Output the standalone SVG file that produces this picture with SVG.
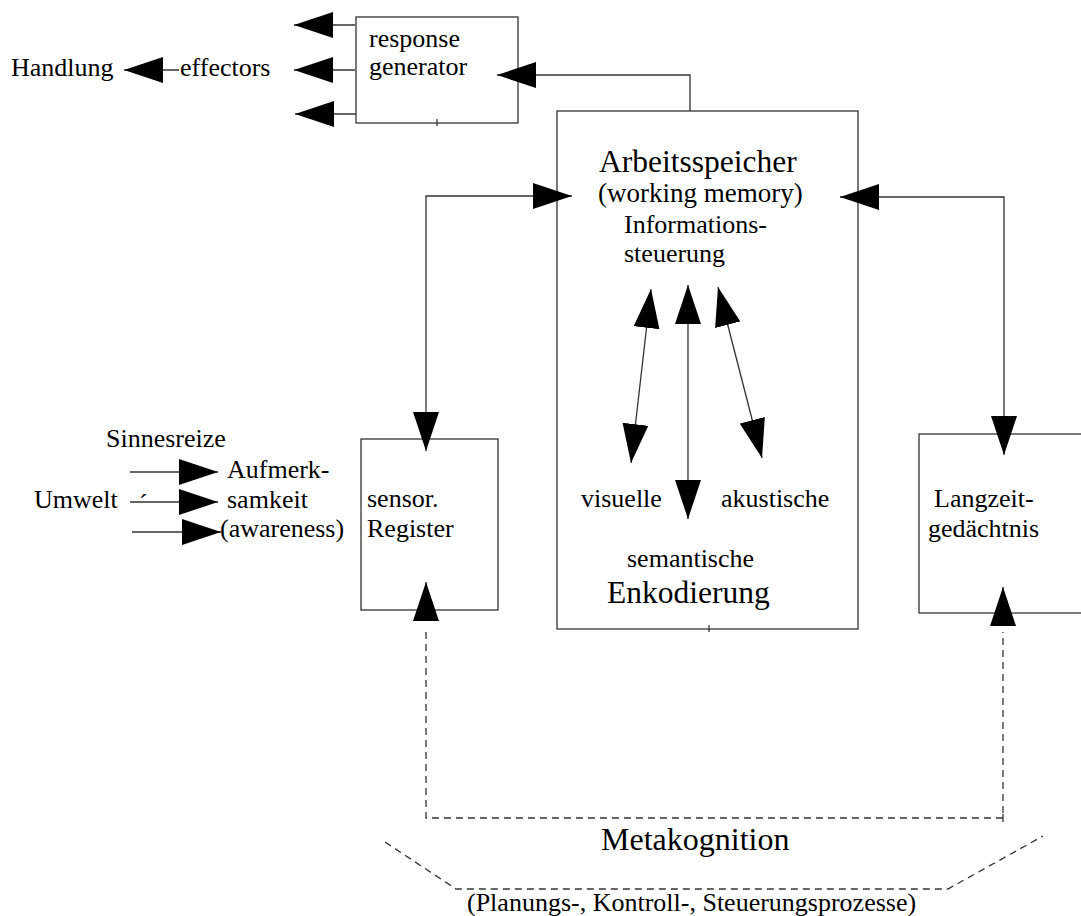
<svg xmlns="http://www.w3.org/2000/svg" width="1081" height="916" viewBox="0 0 1081 916">
<style>
text{font-family:"Liberation Serif","Times New Roman",serif;font-size:26px;fill:#000}
.big{font-size:31.5px}
.box{fill:none;stroke:#333;stroke-width:1.3}
.ln{fill:none;stroke:#333;stroke-width:1.3}
.dash{fill:none;stroke:#333;stroke-width:1.3;stroke-dasharray:7 5}
</style>
<defs>
<marker id="ah" viewBox="0 0 39 26" refX="39" refY="13" markerWidth="39" markerHeight="26" markerUnits="userSpaceOnUse" orient="auto-start-reverse">
<path d="M0,0 L39,13 L0,26 z" fill="#000"/>
</marker>
</defs>
<rect width="1081" height="916" fill="#fff"/>

<g id="response-generator">
<rect class="box" x="356" y="17" width="162" height="106"/>
<line class="ln" x1="437" y1="119" x2="437" y2="126"/>
<text x="369" y="47">response</text>
<text x="369" y="75">generator</text>
</g>

<g id="handlung">
<text x="11" y="76">Handlung</text>
</g>
<g id="effectors">
<text x="180" y="76">effectors</text>
</g>

<g id="arbeitsspeicher">
<rect class="box" x="557" y="111" width="301" height="518"/>
<line class="ln" x1="709" y1="625" x2="709" y2="632"/>
<text class="big" x="599" y="172">Arbeitsspeicher</text>
<text x="598" y="202" style="font-size:27px">(working memory)</text>
<text x="624" y="233">Informations-</text>
<text x="624" y="262">steuerung</text>
<text x="581" y="507">visuelle</text>
<text x="721" y="507">akustische</text>
<text x="627" y="567">semantische</text>
<text class="big" x="607" y="603">Enkodierung</text>
</g>

<g id="sensor-register">
<rect class="box" x="361" y="439" width="137" height="171"/>
<text x="367" y="507">sensor.</text>
<text x="367" y="537">Register</text>
</g>

<g id="langzeit">
<rect class="box" x="919" y="434" width="200" height="179"/>
<text x="934" y="507">Langzeit-</text>
<text x="928" y="537">gedächtnis</text>
</g>

<g id="inputs">
<text x="106" y="447">Sinnesreize</text>
<text x="34" y="508">Umwelt</text>
<text x="139" y="512">´</text>
<text x="227" y="478">Aufmerk-</text>
<text x="227" y="508">samkeit</text>
<text x="220" y="537">(awareness)</text>
</g>

<g id="metakognition">
<text x="601" y="850" style="font-size:32px">Metakognition</text>
<text x="467" y="911">(Planungs-, Kontroll-, Steuerungsprozesse)</text>
<path class="dash" d="M385,842 L456,889 H948 L1043,836"/>
</g>

<g id="connectors">
<line class="ln" x1="355" y1="25" x2="294" y2="25" marker-end="url(#ah)"/>
<line class="ln" x1="355" y1="70" x2="294" y2="70" marker-end="url(#ah)"/>
<line class="ln" x1="356" y1="114" x2="295" y2="114" marker-end="url(#ah)"/>
<line class="ln" x1="179" y1="70" x2="124" y2="70" marker-end="url(#ah)"/>
<path class="ln" d="M690,111 V75 H497" marker-end="url(#ah)"/>
<path class="ln" d="M572,196 H426 V451" marker-start="url(#ah)" marker-end="url(#ah)"/>
<path class="ln" d="M840,197 H1004 V455" marker-start="url(#ah)" marker-end="url(#ah)"/>
<line class="ln" x1="651" y1="289" x2="631" y2="463" marker-start="url(#ah)" marker-end="url(#ah)"/>
<line class="ln" x1="688" y1="285" x2="688" y2="519" marker-start="url(#ah)" marker-end="url(#ah)"/>
<line class="ln" x1="718" y1="287" x2="762" y2="458" marker-start="url(#ah)" marker-end="url(#ah)"/>
<line class="ln" x1="130" y1="472" x2="218" y2="472" marker-end="url(#ah)"/>
<line class="ln" x1="130" y1="502" x2="218" y2="502" marker-end="url(#ah)"/>
<line class="ln" x1="132" y1="532" x2="221" y2="532" marker-end="url(#ah)"/>
<line class="ln" x1="426" y1="621" x2="426" y2="582" marker-end="url(#ah)"/>
<line class="ln" x1="1003" y1="626" x2="1003" y2="587" marker-end="url(#ah)"/>
<path class="dash" d="M426,632 V818 H1003 V632"/>
<line class="ln" x1="1003" y1="814" x2="1003" y2="822"/>
</g>
</svg>
